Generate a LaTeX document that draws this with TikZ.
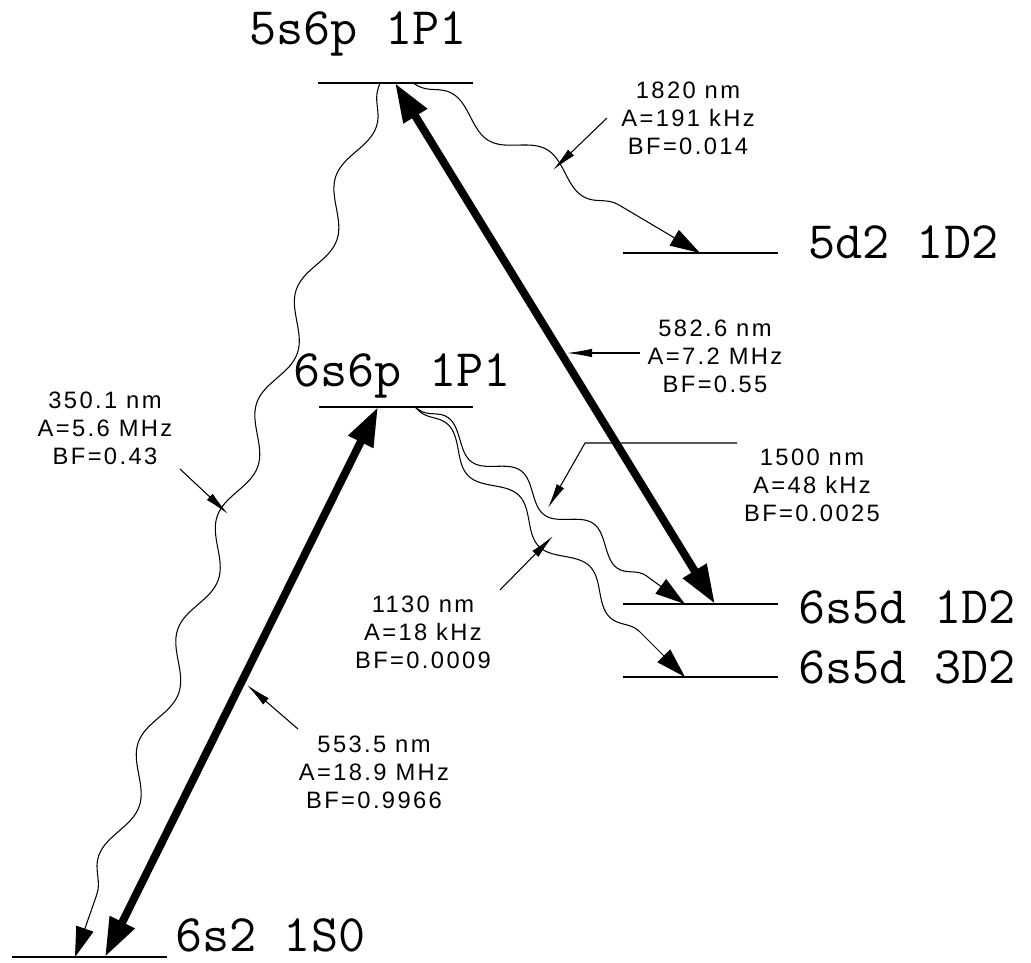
\documentclass[tikz,border=0pt]{standalone}
\usepackage{fontspec}
\usepackage{tikz}
\usetikzlibrary{arrows.meta,decorations.pathmorphing}
\newfontfamily\lblfont[LetterSpace=10]{Liberation Sans}

\begin{document}
\begin{tikzpicture}[x=0.02cm,y=-0.02cm,
  level/.style={line width=1pt},
  lvl/.style={font=\fontsize{30}{32}\selectfont\ttfamily,inner sep=0pt},
  info/.style={font=\fontsize{13.5}{16}\selectfont\lblfont,align=center,inner sep=0pt},
  pump/.style={line width=4.5pt,{Triangle[length=0.78cm,width=0.52cm]}-{Triangle[length=0.78cm,width=0.52cm]}},
  decay/.style={line width=0.6pt,-{Triangle[length=0.6cm,width=0.36cm]},decorate,
    decoration={snake,segment length=#1,amplitude=0.22cm,pre length=0.1cm,post length=0.9cm}},
  lead/.style={line width=0.6pt,-{Latex[length=0.5cm,width=0.17cm]}}]
  \useasboundingbox (0,0) rectangle (1031,963);
  % levels
  \foreach \nm/\xa/\xb/\y in {up/318/473/83, mid/319/473/407, dd/623/778/253,
      sd1/623/778/604, sd3/623/778/677, gnd/12/167/957}{
    \draw[level] (\xa,\y) coordinate (\nm-w) -- (\xb,\y) coordinate (\nm-e);
  }
  \node[lvl,anchor=base] (up-t) at (358,45) {5s6p 1P1};
  \node[lvl,anchor=base] (mid-t) at (402,386) {6s6p 1P1};
  \node[lvl,anchor=base west] (dd-t) at (808,258) {5d2 1D2};
  \node[lvl,anchor=base west] (sd1-t) at (798,623) {6s5d 1D2};
  \node[lvl,anchor=base west] (sd3-t) at (798,683) {6s5d 3D2};
  \node[lvl,anchor=base west] (gnd-t) at (175,951) {6s2 1S0};
  % ends of the transitions
  \coordinate (up-a) at (380,83);
  \coordinate (up-b) at (395,83);
  \coordinate (up-c) at (413,83);
  \coordinate (mid-a) at (378,407);
  \coordinate (mid-b) at (415,407);
  \coordinate (dd-a) at (700,253);
  \coordinate (sd1-a) at (685,604);
  \coordinate (sd1-b) at (715,604);
  \coordinate (sd3-a) at (685,677);
  \coordinate (gnd-a) at (75,957);
  \coordinate (gnd-b) at (105,957);
  % laser lines
  \draw[pump] (gnd-b) -- (mid-a);
  \draw[pump] (up-b) -- (sd1-b);
  % decays
  \draw[decay=2.4cm] (up-a) -- (gnd-a);
  \draw[decay=2.2cm] (up-c) -- (dd-a);
  \draw[decay=1.8cm] (mid-b) -- (sd1-a);
  \draw[decay=2cm] (mid-b) -- (sd3-a);
  % labels
  \node[info] (i1820) at (688,118) {1820 nm\\A=191 kHz\\BF=0.014};
  \node[info] (i5826) at (715,356) {582.6 nm\\A=7.2 MHz\\BF=0.55};
  \node[info] (i3501) at (105,428) {350.1 nm\\A=5.6 MHz\\BF=0.43};
  \node[info] (i1500) at (812,485) {1500 nm\\A=48 kHz\\BF=0.0025};
  \node[info] (i1130) at (423,632) {1130 nm\\A=18 kHz\\BF=0.0009};
  \node[info] (i5535) at (374,772) {553.5 nm\\A=18.9 MHz\\BF=0.9966};
  % leaders
  \coordinate (w1820) at (553,170);
  \coordinate (w5826) at (567,353);
  \coordinate (w3501) at (228,514);
  \coordinate (w1500) at (548,508);
  \coordinate (k1500) at (585,443);
  \coordinate (w1130) at (553,536);
  \coordinate (w5535) at (247,685);
  \draw[lead] (607,118) coordinate (s1820) -- (w1820);
  \draw[lead] (640,353) coordinate (s5826) -- (w5826);
  \draw[lead] (180,469) coordinate (s3501) -- (w3501);
  \draw[lead] (737,443) coordinate (s1500) -- (k1500) -- (w1500);
  \draw[lead] (500,590) coordinate (s1130) -- (w1130);
  \draw[lead] (298,729) coordinate (s5535) -- (w5535);
\end{tikzpicture}
\end{document}
